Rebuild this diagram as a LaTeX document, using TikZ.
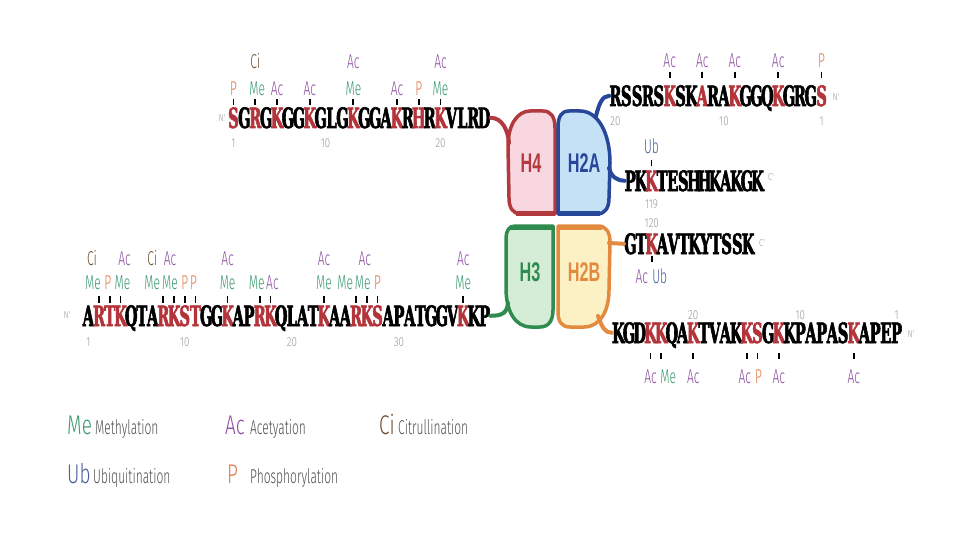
\documentclass[tikz,border=0pt]{standalone}
\usepackage{fontspec}
\setmainfont{Liberation Sans}
\newfontfamily\seqfont[FakeStretch=0.52, FakeBold=2]{DejaVu Serif}
\newfontfamily\modfont[FakeStretch=0.6]{Fira Sans Light}
\newfontfamily\legfont[FakeStretch=0.7]{Fira Sans Light}
\newfontfamily\descfont[FakeStretch=0.6]{Fira Sans Light}
\newfontfamily\numfont[FakeStretch=0.75]{Fira Sans Light}
\newfontfamily\hfont[FakeStretch=0.6]{Liberation Sans}

\definecolor{seqred}{HTML}{B3343A}
\colorlet{rd}{seqred}
\colorlet{bk}{black}
\definecolor{cMe}{HTML}{3A9A6E}
\definecolor{cAc}{HTML}{8E4FA0}
\definecolor{cCi}{HTML}{6B4A2B}
\definecolor{cUb}{HTML}{4A5F9E}
\definecolor{cP}{HTML}{E07A48}
\definecolor{hfourS}{HTML}{B23A3E}
\definecolor{hfourF}{HTML}{F8D7E1}
\definecolor{htwoaS}{HTML}{26479A}
\definecolor{htwoaF}{HTML}{C5E1F6}
\definecolor{hthreeS}{HTML}{2F8C4E}
\definecolor{hthreeF}{HTML}{D5EDD6}
\definecolor{htwobS}{HTML}{E48A3E}
\definecolor{htwobF}{HTML}{FCF1C4}
\definecolor{numgray}{HTML}{9A9A9A}
\definecolor{descgray}{HTML}{505050}

\tikzset{
  res/.style={anchor=base, inner sep=0pt, font=\seqfont\bfseries\fontsize{28}{28}\selectfont},
  modl/.style={anchor=base, inner sep=0pt, font=\modfont\fontsize{20}{20}\selectfont},
  numl/.style={anchor=base, inner sep=0pt, text=numgray, font=\numfont\fontsize{13}{13}\selectfont},
  endl/.style={inner sep=0pt, text=numgray, font=\numfont\fontsize{10}{10}\selectfont},
  tickl/.style={line width=1.8pt, black},
  conn/.style={line width=4pt, line cap=round},
  histone/.style={line width=3.5pt, line join=round},
  hlab/.style={inner sep=0pt, font=\hfont\bfseries\fontsize{27}{27}\selectfont},
  legbig/.style={anchor=base west, inner sep=0pt, font=\legfont\fontsize{27}{27}\selectfont},
  legdesc/.style={anchor=base west, inner sep=0pt, text=descgray, font=\descfont\fontsize{20}{20}\selectfont},
}

\newcommand\seqline[5]{%
  \foreach \l/\c [count=\i] in {#5} {
    \node[res, text=\c] (#1r\i) at ({#2+(\i-0.5)*#3}, #4) {\l};
  }}
\newcommand\modm[6]{\node[modl, text=#5] (#1) at ([xshift=#3pt, yshift=#4pt]#2.base) {#6};}
\newcommand\tickm[3]{\draw[tickl] ([yshift=#2pt]#1.base) -- ([yshift=#3pt]#1.base);}

\begin{document}
\begin{tikzpicture}[x=1pt, y=-1pt]
\useasboundingbox (0,0) rectangle (960,540);
\fill[white] (0,0) rectangle (960,540);

% ---------- histone shapes ----------
\filldraw[histone, draw=hfourS, fill=hfourF]
  (555,214) -- (555,128) .. controls (555,117) and (551,111) .. (543,111) -- (530,111)
  .. controls (518,111) and (508,124) .. (508,146) -- (509,198)
  .. controls (509,208) and (513,214) .. (521,214) -- cycle;
\draw[line width=5pt, hfourS] (516,213) -- (555,213);
\filldraw[histone, draw=htwoaS, fill=htwoaF]
  (558,214) -- (558,128) .. controls (558,117) and (561,111) .. (569,111) -- (580,111)
  .. controls (598,111) and (610,133) .. (610,163) -- (609,198)
  .. controls (609,208) and (605,214) .. (597,214) -- cycle;
\draw[line width=5pt, htwoaS] (558,213) -- (600,213);
\filldraw[histone, draw=hthreeS, fill=hthreeF]
  (553,226) -- (553,310) .. controls (553,320) and (549,327) .. (540,327) -- (531,327)
  .. controls (515,327) and (506,311) .. (506,288) -- (506,238)
  .. controls (506,231) and (509,226) .. (515,226) -- cycle;
\draw[line width=5pt, hthreeS] (510,227) -- (553,227);
\filldraw[histone, draw=htwobS, fill=htwobF]
  (558,226) -- (558,312) .. controls (558,322) and (562,327) .. (570,327) -- (584,327)
  .. controls (600,327) and (609,311) .. (609,290) -- (610,242)
  .. controls (610,232) and (606,226) .. (598,226) -- cycle;
\draw[line width=5pt, htwobS] (558,227) -- (602,227);

\node[hlab, text=hfourS] (lH4) at (531,163) {H4};
\node[hlab, text=htwoaS] (lH2A) at (584,163) {H2A};
\node[hlab, text=hthreeS] (lH3) at (530,272) {H3};
\node[hlab, text=htwobS] (lH2B) at (584,272) {H2B};

% ---------- sequences ----------
\seqline{h4}{228}{10.9}{128}{S/rd,G/bk,R/rd,G/bk,K/rd,G/bk,G/bk,K/rd,G/bk,L/bk,G/bk,K/rd,G/bk,G/bk,A/bk,K/rd,R/bk,H/rd,R/bk,K/rd,V/bk,L/bk,R/bk,D/bk}
\seqline{h2an}{610}{10.85}{106}{R/bk,S/bk,S/bk,R/bk,S/bk,K/rd,S/bk,K/bk,A/rd,R/bk,A/bk,K/rd,G/bk,G/bk,Q/bk,K/rd,G/bk,R/bk,G/bk,S/rd}
\seqline{h2ac}{625}{10.6}{191}{P/bk,K/bk,K/rd,T/bk,E/bk,S/bk,H/bk,H/bk,K/bk,A/bk,K/bk,G/bk,K/bk}
\seqline{h2bc}{625}{10.7}{254}{G/bk,T/bk,K/rd,A/bk,V/bk,T/bk,K/bk,Y/bk,T/bk,S/bk,S/bk,K/bk}
\seqline{h2bn}{613}{10.7}{343}{K/bk,G/bk,D/bk,K/rd,K/rd,Q/bk,A/bk,K/rd,T/bk,V/bk,A/bk,K/bk,K/rd,S/rd,G/bk,K/rd,K/bk,P/bk,A/bk,P/bk,A/bk,S/bk,K/rd,A/bk,P/bk,E/bk,P/bk}
\seqline{h3}{83}{10.71}{326}{A/bk,R/rd,T/rd,K/rd,Q/bk,T/bk,A/bk,R/rd,K/rd,S/rd,T/rd,G/bk,G/bk,K/rd,A/bk,P/bk,R/rd,K/rd,Q/bk,L/bk,A/bk,T/bk,K/rd,A/bk,A/bk,R/rd,K/rd,S/rd,A/bk,P/bk,A/bk,T/bk,G/bk,G/bk,V/bk,K/rd,K/bk,P/bk}

% ---------- connectors ----------
\coordinate (h4in) at (509,143);
\coordinate (h2ain) at (596,116);
\coordinate (h2aout) at (609,168);
\coordinate (h3in) at (508,303);
\coordinate (h2bout) at (609,243);
\coordinate (h2bout2) at (598,316);
\draw[conn, hfourS] (h4r24.east) .. controls +(12,0) and +(-1,-12) .. (h4in);
\draw[conn, htwoaS] (h2ain) .. controls +(3,-12) and +(-7,0) .. (h2anr1.west);
\draw[conn, htwoaS] (h2aout) .. controls +(2,9) and +(-7,0) .. (h2acr1.west);
\draw[conn, hthreeS] (h3r38.east) .. controls +(12,0) and +(-1,10) .. (h3in);
\draw[conn, htwobS] (h2bout) -- (h2bcr1.west);
\draw[conn, htwobS] (h2bout2) .. controls +(4,11) and +(-7,0) .. (h2bnr1.west);

% ---------- H4 modifications ----------
\foreach \r in {1,3,5,8,12,16,18,20} {\tickm{h4r\r}{29}{23}}
\modm{h4m1}{h4r1}{0}{32}{cP}{P}
\modm{h4m2}{h4r3}{2}{32}{cMe}{Me}
\modm{h4m3}{h4r3}{0}{59}{cCi}{Ci}
\modm{h4m4}{h4r5}{0}{32}{cAc}{Ac}
\modm{h4m5}{h4r8}{0}{32}{cAc}{Ac}
\modm{h4m6}{h4r12}{0}{32}{cMe}{Me}
\modm{h4m7}{h4r12}{0}{59}{cAc}{Ac}
\modm{h4m8}{h4r16}{0}{32}{cAc}{Ac}
\modm{h4m9}{h4r18}{0}{32}{cP}{P}
\modm{h4m10}{h4r20}{0}{32}{cMe}{Me}
\modm{h4m11}{h4r20}{0}{59}{cAc}{Ac}
\node[numl] (h4n1) at ([yshift=-20pt]h4r1.base) {1};
\node[numl] (h4n10) at ([xshift=-6pt, yshift=-20pt]h4r10.base) {10};
\node[numl] (h4n20) at ([yshift=-20pt]h4r20.base) {20};
\node[endl] (h4N) at (222,118) {N'};

% ---------- H2A N-terminal ----------
\foreach \r in {6,9,12,16,20} {\tickm{h2anr\r}{34}{28}}
\modm{h2am1}{h2anr6}{0}{38}{cAc}{Ac}
\modm{h2am2}{h2anr9}{0}{38}{cAc}{Ac}
\modm{h2am3}{h2anr12}{0}{38}{cAc}{Ac}
\modm{h2am4}{h2anr16}{0}{38}{cAc}{Ac}
\modm{h2am5}{h2anr20}{0}{38}{cP}{P}
\node[numl] (h2an20) at ([yshift=-20pt]h2anr1.base) {20};
\node[numl] (h2an10) at ([yshift=-20pt]h2anr11.base) {10};
\node[numl] (h2an1) at ([yshift=-20pt]h2anr20.base) {1};
\node[endl] (h2aN) at (836,97) {N'};

% ---------- H2A C-terminal ----------
\tickm{h2acr3}{31}{25}
\modm{h2am6}{h2acr3}{0}{37}{cUb}{Ub}
\node[numl] (h2ac119) at ([yshift=-17pt]h2acr3.base) {119};
\node[endl] (h2aC) at (771,177) {C'};

% ---------- H2B C-terminal ----------
\node[numl] (h2bc120) at ([yshift=27pt]h2bcr3.base) {120};
\tickm{h2bcr3}{-2}{-8}
\modm{h2bm1}{h2bcr3}{-10}{-29}{cAc}{Ac}
\modm{h2bm2}{h2bcr3}{8}{-29}{cUb}{Ub}
\node[endl] (h2bC) at (762,243) {C'};

% ---------- H2B N-terminal ----------
\foreach \r in {4,5,8,13,14,16,23} {\tickm{h2bnr\r}{-10}{-16}}
\modm{h2bm3}{h2bnr4}{0}{-40}{cAc}{Ac}
\modm{h2bm4}{h2bnr5}{7}{-40}{cMe}{Me}
\modm{h2bm5}{h2bnr8}{0}{-40}{cAc}{Ac}
\modm{h2bm6}{h2bnr13}{-2}{-40}{cAc}{Ac}
\modm{h2bm7}{h2bnr14}{1}{-40}{cP}{P}
\modm{h2bm8}{h2bnr16}{0}{-40}{cAc}{Ac}
\modm{h2bm9}{h2bnr23}{0}{-40}{cAc}{Ac}
\node[numl] (h2bn20) at ([yshift=24pt]h2bnr8.base) {20};
\node[numl] (h2bn10) at ([yshift=24pt]h2bnr18.base) {10};
\node[numl] (h2bn1) at ([yshift=24pt]h2bnr27.base) {1};
\node[endl] (h2bN) at (911,334) {N'};

% ---------- H3 ----------
\foreach \r in {2,3,4,8,9,10,11,14,17,18,23,26,27,28,36} {\tickm{h3r\r}{30}{23}}
\modm{h3m1}{h3r2}{-6}{37}{cMe}{Me}
\modm{h3m2}{h3r2}{-7}{61}{cCi}{Ci}
\modm{h3m3}{h3r3}{-2}{37}{cP}{P}
\modm{h3m4}{h3r4}{2}{37}{cMe}{Me}
\modm{h3m5}{h3r4}{4}{61}{cAc}{Ac}
\modm{h3m6}{h3r8}{-11}{37}{cMe}{Me}
\modm{h3m7}{h3r8}{-11}{61}{cCi}{Ci}
\modm{h3m8}{h3r9}{-4}{37}{cMe}{Me}
\modm{h3m9}{h3r9}{-4}{61}{cAc}{Ac}
\modm{h3m10}{h3r10}{0}{37}{cP}{P}
\modm{h3m11}{h3r11}{-2}{37}{cP}{P}
\modm{h3m12}{h3r14}{0}{37}{cMe}{Me}
\modm{h3m13}{h3r14}{0}{61}{cAc}{Ac}
\modm{h3m14}{h3r17}{-3}{37}{cMe}{Me}
\modm{h3m15}{h3r18}{2}{37}{cAc}{Ac}
\modm{h3m16}{h3r23}{0}{37}{cMe}{Me}
\modm{h3m17}{h3r23}{0}{61}{cAc}{Ac}
\modm{h3m18}{h3r26}{-11}{37}{cMe}{Me}
\modm{h3m19}{h3r27}{-4}{37}{cMe}{Me}
\modm{h3m20}{h3r27}{-2}{61}{cAc}{Ac}
\modm{h3m21}{h3r28}{0}{37}{cP}{P}
\modm{h3m22}{h3r36}{0}{37}{cMe}{Me}
\modm{h3m23}{h3r36}{0}{61}{cAc}{Ac}
\node[numl] (h3n1) at ([yshift=-20pt]h3r1.base) {1};
\node[numl] (h3n10) at ([yshift=-20pt]h3r10.base) {10};
\node[numl] (h3n20) at ([yshift=-20pt]h3r20.base) {20};
\node[numl] (h3n30) at ([yshift=-20pt]h3r30.base) {30};
\node[endl] (h3N) at (67,315) {N'};

% ---------- legend ----------
\node[legbig, text=cMe] (lgMe) at (67,434) {Me};
\node[legdesc] (lgMeT) at (95,434) {Methylation};
\node[legbig, text=cAc] (lgAc) at (225,434) {Ac};
\node[legdesc] (lgAcT) at (250,434) {Acetyation};
\node[legbig, text=cCi] (lgCi) at (379,434) {Ci};
\node[legdesc] (lgCiT) at (398,434) {Citrullination};
\node[legbig, text=cUb] (lgUb) at (67,483) {Ub};
\node[legdesc] (lgUbT) at (93,483) {Ubiquitination};
\node[legbig, text=cP] (lgP) at (227,483) {P};
\node[legdesc] (lgPT) at (250,483) {Phosphorylation};
\end{tikzpicture}
\end{document}
